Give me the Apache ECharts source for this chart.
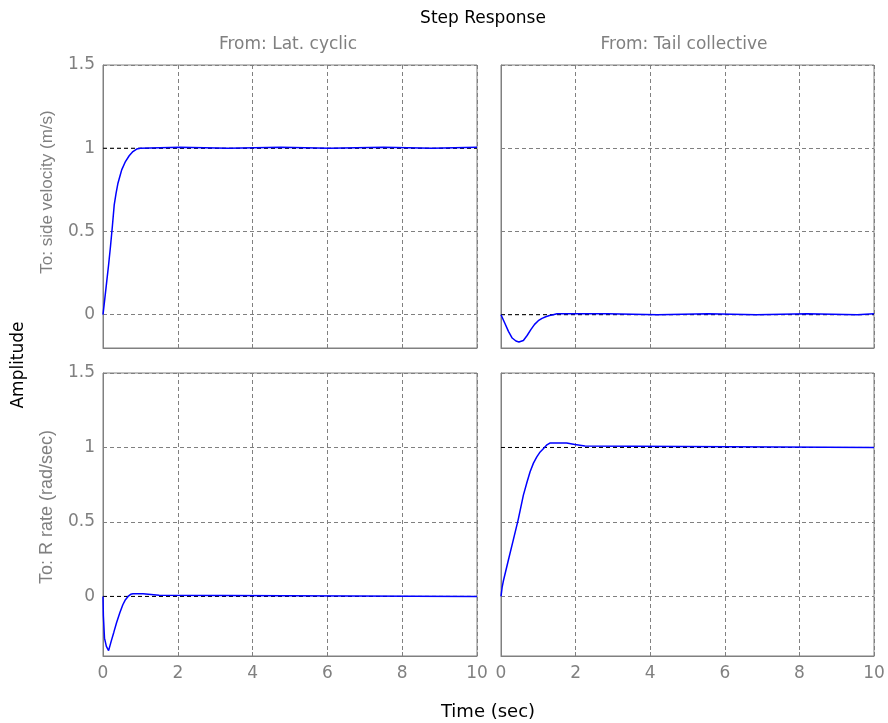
<!DOCTYPE html>
<html>
<head>
<meta charset="utf-8">
<script src="https://cdn.jsdelivr.net/npm/echarts@6/dist/echarts.min.js"></script>
<style>
  html, body { margin: 0; padding: 0; background: #ffffff; }
  #chart { width: 888px; height: 723px; }
</style>
</head>
<body>
<div id="chart"></div>
<script>
// Step response of a 2x2 helicopter lateral/yaw system
const timeTicks = [0, 2, 4, 6, 8, 10];
const amplitudeTicks = [0, 0.5, 1, 1.5];
const inputNames = ['From: Lat. cyclic', 'From: Tail collective'];
const outputNames = ['To: side velocity (m/s)', 'To: R rate (rad/sec)'];

// Lat. cyclic -> side velocity
const tLatSide = [0, 0.05, 0.1, 0.15, 0.2, 0.25, 0.3, 0.35, 0.4, 0.45, 0.5, 0.6, 0.7, 0.8, 0.9, 1.0,
  1.05, 2.05, 2.1, 3.35, 3.4, 4.75, 4.8, 6.05, 6.1, 7.5, 7.55, 8.8, 8.85, 10];
const vLatSide = [0, 0.1, 0.2, 0.3, 0.41, 0.53, 0.66, 0.73, 0.79, 0.83, 0.87, 0.92, 0.955, 0.98, 0.995, 1.0,
  1.006, 1.006, 1.0, 1.0, 1.006, 1.006, 1.0, 1.0, 1.006, 1.006, 1.0, 1.0, 1.006, 1.006];

// Tail collective -> side velocity
const tTailSide = [0, 0.1, 0.2, 0.3, 0.4, 0.48, 0.6, 0.7, 0.8, 0.9, 1.0, 1.1, 1.2, 1.3, 1.4, 1.5,
  2.85, 2.9, 4.2, 4.25, 5.55, 5.6, 6.85, 6.9, 8.2, 8.25, 9.55, 9.6, 10];
const vTailSide = [0, -0.05, -0.1, -0.14, -0.158, -0.164, -0.155, -0.125, -0.09, -0.058, -0.036, -0.022, -0.012, -0.005, 0, 0.006,
  0.006, 0, 0, 0.006, 0.006, 0, 0, 0.006, 0.006, 0, 0, 0.006, 0.006];

// Lat. cyclic -> R rate
const tLatRate = [0, 0.01, 0.04, 0.09, 0.15, 0.22, 0.29, 0.36, 0.45, 0.53, 0.6, 0.67, 0.74, 0.8, 1.07, 1.12, 1.5, 1.55, 10];
const vLatRate = [0, -0.13, -0.28, -0.335, -0.364, -0.3, -0.24, -0.178, -0.11, -0.056, -0.022, 0, 0.014, 0.018, 0.018, 0.009, 0.008, 0, 0];

// Tail collective -> R rate
const tTailRate = [0, 0.03, 0.06, 0.2, 0.33, 0.46, 0.6, 0.7, 0.78, 0.87, 0.96, 1.05, 1.14, 1.22, 1.31, 1.76, 1.8, 1.98, 2.02, 2.25, 2.3, 10];
const vTailRate = [0, 0.06, 0.1, 0.246, 0.38, 0.514, 0.68, 0.77, 0.837, 0.895, 0.937, 0.97, 0.993, 1.015, 1.03, 1.03, 1.02, 1.02, 1.01, 1.01, 1.0, 1.0];

// steady-state value of each channel: [row][col]
const steadyState = [[1, 0], [0, 1]];
// lower limit of amplitude per row
const rowMin = [-0.2, -0.4];

const responses = [
  [zip(tLatSide, vLatSide), zip(tTailSide, vTailSide)],
  [zip(tLatRate, vLatRate), zip(tTailRate, vTailRate)]
];

function zip(t, v) { return t.map((x, i) => [x, v[i]]); }

const GRAY = '#808080';
const gridBoxes = [
  [{ left: 103, top: 65, width: 374, height: 283 }, { left: 501, top: 65, width: 373, height: 283 }],
  [{ left: 103, top: 373, width: 374, height: 283 }, { left: 501, top: 373, width: 373, height: 283 }]
];

const grids = [], xAxes = [], yAxes = [], series = [];
let idx = 0;
for (let r = 0; r < 2; r++) {
  for (let c = 0; c < 2; c++) {
    const b = gridBoxes[r][c];
    grids.push(Object.assign({
      show: true, borderColor: GRAY, borderWidth: 1, backgroundColor: '#ffffff', containLabel: false
    }, b));
    xAxes.push({
      type: 'value', gridIndex: idx, min: 0, max: 10, interval: 2,
      axisLine: { show: true, onZero: false, lineStyle: { color: GRAY, width: 1 } },
      axisTick: { show: true, inside: true, length: 4, lineStyle: { color: GRAY } },
      axisLabel: {
        show: r === 1, margin: 9, color: GRAY,
        fontFamily: 'DejaVu Sans', fontSize: 17,
        customValues: timeTicks
      },
      splitLine: { show: true, lineStyle: { color: GRAY, width: 1, type: [4, 3] } }
    });
    yAxes.push({
      type: 'value', gridIndex: idx, min: rowMin[r], max: 1.5,
      axisLine: { show: true, onZero: false, lineStyle: { color: GRAY, width: 1 } },
      axisTick: { show: true, inside: true, length: 4, lineStyle: { color: GRAY }, customValues: amplitudeTicks },
      axisLabel: {
        show: c === 0, margin: 8, color: GRAY,
        fontFamily: 'DejaVu Sans', fontSize: 17,
        customValues: amplitudeTicks
      },
      splitLine: { show: true, lineStyle: { color: GRAY, width: 1, type: [4, 3] } }
    });
    // steady-state reference
    series.push({
      type: 'line', xAxisIndex: idx, yAxisIndex: idx, z: 2,
      data: [[0, steadyState[r][c]], [10, steadyState[r][c]]],
      symbol: 'none', silent: true,
      lineStyle: { color: '#000000', width: 1, type: [4, 3] }
    });
    // step response
    series.push({
      type: 'line', xAxisIndex: idx, yAxisIndex: idx, z: 3,
      data: responses[r][c],
      symbol: 'none', silent: true,
      lineStyle: { color: '#0000ff', width: 1.5 }
    });
    idx++;
  }
}

function label(text, x, y, opts) {
  opts = opts || {};
  return {
    type: 'text', x: x, y: y, rotation: opts.rotation || 0, z: 10,
    style: {
      text: text, x: 0, y: 0,
      fill: opts.color || '#000000',
      font: (opts.size || 17) + 'px "' + (opts.family || 'DejaVu Sans') + '"',
      align: 'center', verticalAlign: 'middle'
    }
  };
}

const graphics = [
  label('Step Response', 483, 19, { size: 17 }),
  label(inputNames[0], 288, 45, { color: GRAY }),
  label(inputNames[1], 684, 45, { color: GRAY }),
  label('Amplitude', 18.5, 365, { rotation: Math.PI / 2 }),
  label(outputNames[0], 47, 192, { rotation: Math.PI / 2, color: GRAY, family: 'Liberation Sans', size: 17 }),
  label(outputNames[1], 47, 507, { rotation: Math.PI / 2, color: GRAY, family: 'Liberation Sans', size: 18 }),
  label('Time (sec)', 488, 712, { size: 18 })
];

const chart = echarts.init(document.getElementById('chart'), null, { renderer: 'canvas' });
chart.setOption({
  animation: false,
  backgroundColor: '#ffffff',
  grid: grids,
  xAxis: xAxes,
  yAxis: yAxes,
  series: series,
  graphic: graphics
});
</script>
</body>
</html>
